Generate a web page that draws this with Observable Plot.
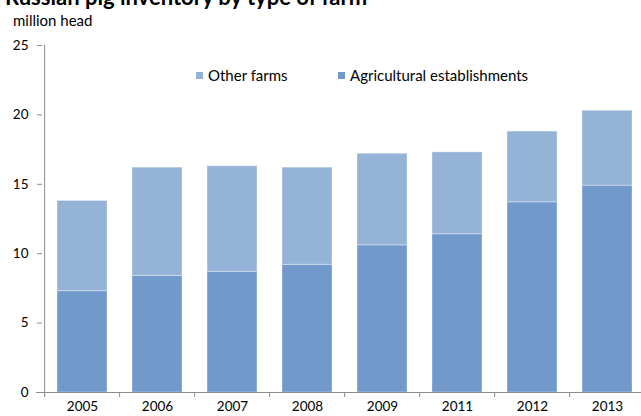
<!DOCTYPE html>
<html><head><meta charset="utf-8">
<script src="https://cdn.jsdelivr.net/npm/d3@7"></script>
<script src="https://cdn.jsdelivr.net/npm/@observablehq/plot@0.6"></script>
<style>
body{margin:0;background:#fff;overflow:hidden;width:641px;height:416px;position:relative;font-family:Lato,"Open Sans",sans-serif;}
#title{position:absolute;left:5px;top:-17px;font-size:22px;font-weight:bold;color:#000;white-space:nowrap;}
#sub{position:absolute;left:13px;top:11px;font-size:15px;color:#000;white-space:nowrap;}
.lg{position:absolute;top:66px;font-size:15px;color:#000;white-space:nowrap;line-height:18px;}
.sw{position:absolute;top:72px;width:7px;height:7px;}
#chart{position:absolute;left:0;top:0;}
</style></head>
<body>
<div id="chart"></div>
<div id="title">Russian pig inventory by type of farm</div>
<div id="sub">million head</div>
<div id="legend"></div>
<script>
const years = ["2005","2006","2007","2008","2009","2011","2012","2013"];
const agricultural = [7.3, 8.4, 8.7, 9.2, 10.6, 11.4, 13.7, 14.9];
const otherFarms = [6.5, 7.8, 7.6, 7.0, 6.6, 5.9, 5.1, 5.4];
const seriesNames = ["Agricultural establishments", "Other farms"];
const seriesColors = ["#7199CC", "#95B3D7"];
const yTicks = [0, 5, 10, 15, 20, 25];

const data = [];
years.forEach((y, i) => {
  data.push({year: y, series: seriesNames[0], value: agricultural[i]});
  data.push({year: y, series: seriesNames[1], value: otherFarms[i]});
});

const W = 641, H = 416, mL = 42, mR = -7, mT = 45, mB = 24;
const step = (W - mR - mL) / years.length;
const axisColor = "#8c8c8c";

const plot = Plot.plot({
  width: W, height: H,
  marginLeft: mL, marginRight: mR, marginTop: mT, marginBottom: mB,
  style: {fontFamily: "Lato, 'Open Sans', sans-serif", fontSize: "13.5px", color: "#000", overflow: "hidden"},
  x: {domain: years, paddingInner: 0.33, paddingOuter: 0.165, label: null},
  y: {domain: [0, 25], label: null},
  color: {domain: seriesNames, range: seriesColors},
  marks: [
    Plot.barY(data, Plot.stackY({order: seriesNames, x: "year", y: "value", fill: "series", stroke: "#ffffff", strokeOpacity: 0.35, strokeWidth: 1})),
    Plot.axisY({ticks: yTicks, tickSize: 5, tickPadding: 9, stroke: axisColor, fontSize: 13.5, anchor: "left"}),
    Plot.ruleX([years[0]], {dx: -step/2, y1: 0, y2: 25, stroke: axisColor}),
    Plot.ruleY([0], {stroke: axisColor, insetLeft: -6}),
    Plot.ruleX(years, {x: d => d, dx: -step/2, y1: 0, y2: 0, insetBottom: -5, stroke: axisColor}),
    Plot.axisX({tickSize: 0, tickPadding: 9, fontSize: 13.5})
  ]
});
document.getElementById("chart").appendChild(plot);

const lg = document.getElementById("legend");
const legendItems = [[1, 196], [0, 338]];
legendItems.forEach(([k, x]) => {
  const sw = document.createElement("div");
  sw.className = "sw";
  sw.style.left = x + "px";
  sw.style.background = seriesColors[k];
  lg.appendChild(sw);
  const t = document.createElement("div");
  t.className = "lg";
  t.style.left = (x + 12) + "px";
  t.textContent = seriesNames[k];
  lg.appendChild(t);
});
</script>
</body></html>
